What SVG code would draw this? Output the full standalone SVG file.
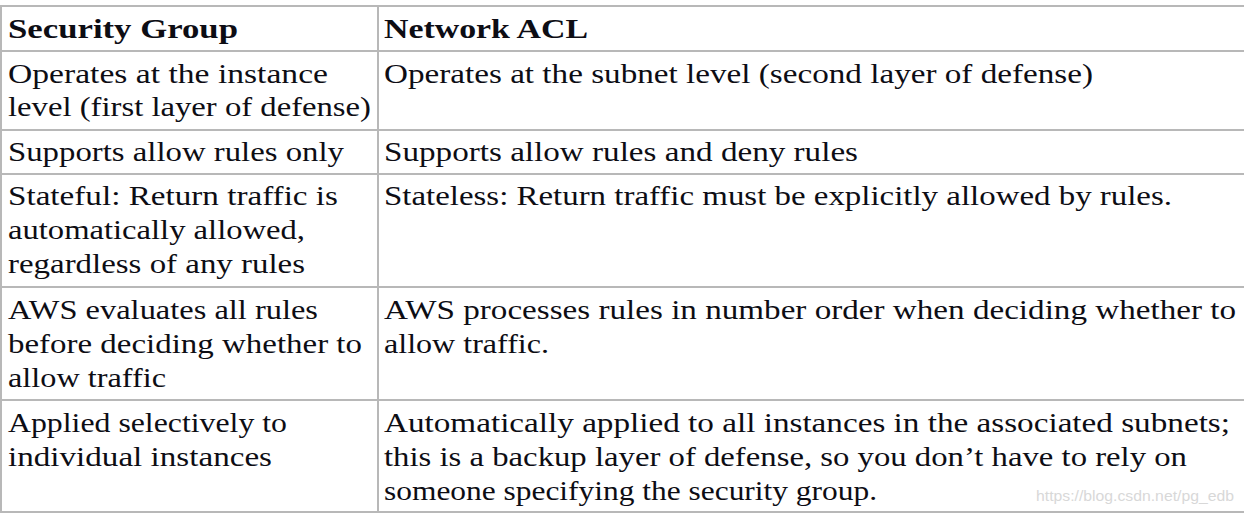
<svg xmlns="http://www.w3.org/2000/svg" width="1244" height="514" viewBox="0 0 1244 514">
<style>
.bg{fill:#ffffff}
.ln{stroke:#b8b8b8;stroke-width:2;fill:none}
.t{font-family:"Liberation Serif","Times New Roman",serif;font-size:27px;fill:#0d0d14}
.h{font-weight:bold}
.wm{font-family:"Liberation Sans",Arial,sans-serif;font-size:14px;fill:#d8d8d8}
</style>
<rect class="bg" x="0" y="0" width="1244" height="514"/>
<g id="grid">
<line class="ln" x1="0" y1="6" x2="1244" y2="6"/>
<line class="ln" x1="0" y1="51" x2="1244" y2="51"/>
<line class="ln" x1="0" y1="130" x2="1244" y2="130"/>
<line class="ln" x1="0" y1="174" x2="1244" y2="174"/>
<line class="ln" x1="0" y1="287" x2="1244" y2="287"/>
<line class="ln" x1="0" y1="400" x2="1244" y2="400"/>
<line class="ln" x1="0" y1="512" x2="1244" y2="512"/>
<line class="ln" x1="1" y1="5" x2="1" y2="513"/>
<line class="ln" x1="378" y1="5" x2="378" y2="513"/>
</g>
<g id="header">
<text class="t h" x="8" y="38" textLength="230" lengthAdjust="spacingAndGlyphs">Security Group</text>
<text class="t h" x="384" y="38" textLength="204" lengthAdjust="spacingAndGlyphs">Network ACL</text>
</g>
<g id="row1">
<text class="t" x="8" y="83" textLength="320" lengthAdjust="spacingAndGlyphs">Operates at the instance</text>
<text class="t" x="8" y="116" textLength="363" lengthAdjust="spacingAndGlyphs">level (first layer of defense)</text>
<text class="t" x="384" y="83" textLength="709" lengthAdjust="spacingAndGlyphs">Operates at the subnet level (second layer of defense)</text>
</g>
<g id="row2">
<text class="t" x="8" y="161" textLength="336" lengthAdjust="spacingAndGlyphs">Supports allow rules only</text>
<text class="t" x="384" y="161" textLength="474" lengthAdjust="spacingAndGlyphs">Supports allow rules and deny rules</text>
</g>
<g id="row3">
<text class="t" x="8" y="205" textLength="330" lengthAdjust="spacingAndGlyphs">Stateful: Return traffic is</text>
<text class="t" x="8" y="239" textLength="297" lengthAdjust="spacingAndGlyphs">automatically allowed,</text>
<text class="t" x="8" y="273" textLength="297" lengthAdjust="spacingAndGlyphs">regardless of any rules</text>
<text class="t" x="384" y="205" textLength="788" lengthAdjust="spacingAndGlyphs">Stateless: Return traffic must be explicitly allowed by rules.</text>
</g>
<g id="row4">
<text class="t" x="8" y="319" textLength="310" lengthAdjust="spacingAndGlyphs">AWS evaluates all rules</text>
<text class="t" x="8" y="353" textLength="354" lengthAdjust="spacingAndGlyphs">before deciding whether to</text>
<text class="t" x="8" y="387" textLength="158" lengthAdjust="spacingAndGlyphs">allow traffic</text>
<text class="t" x="384" y="319" textLength="852" lengthAdjust="spacingAndGlyphs">AWS processes rules in number order when deciding whether to</text>
<text class="t" x="384" y="353" textLength="165" lengthAdjust="spacingAndGlyphs">allow traffic.</text>
</g>
<g id="row5">
<text class="t" x="8" y="432" textLength="279" lengthAdjust="spacingAndGlyphs">Applied selectively to</text>
<text class="t" x="8" y="466" textLength="264" lengthAdjust="spacingAndGlyphs">individual instances</text>
<text class="t" x="384" y="432" textLength="846" lengthAdjust="spacingAndGlyphs">Automatically applied to all instances in the associated subnets;</text>
<text class="t" x="384" y="466" textLength="803" lengthAdjust="spacingAndGlyphs">this is a backup layer of defense, so you don’t have to rely on</text>
<text class="t" x="384" y="500" textLength="493" lengthAdjust="spacingAndGlyphs">someone specifying the security group.</text>
</g>
<g id="watermark">
<text class="wm" x="1036" y="501" textLength="198" lengthAdjust="spacingAndGlyphs">https://blog.csdn.net/pg_edb</text>
</g>
</svg>
